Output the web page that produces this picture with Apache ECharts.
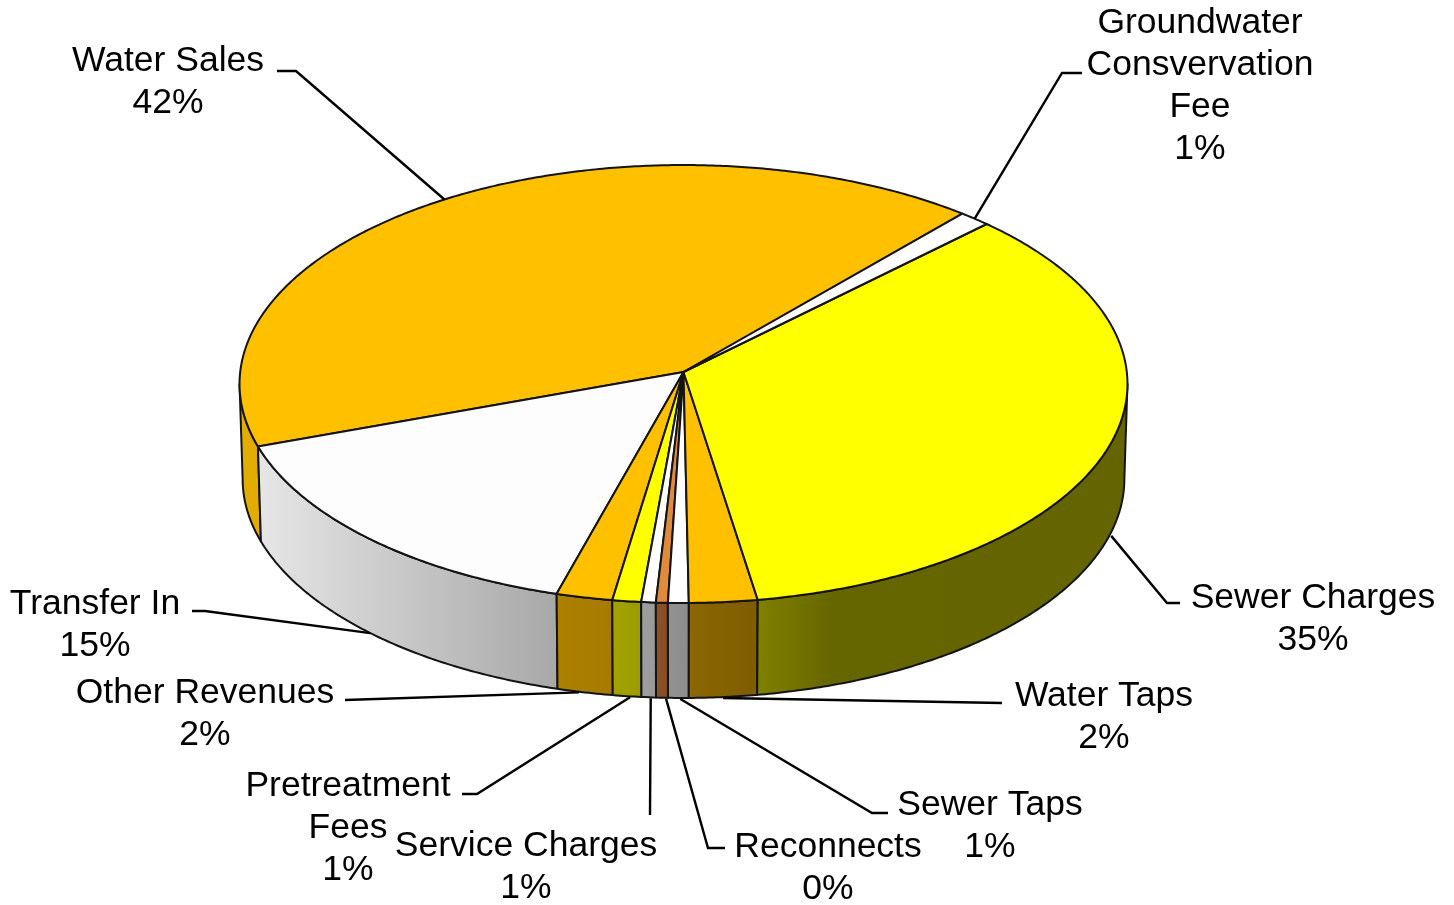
<!DOCTYPE html>
<html>
<head>
<meta charset="utf-8">
<style>html,body{margin:0;padding:0;background:#fff}#chart{width:1454px;height:905px}</style>
<script src="https://cdn.jsdelivr.net/npm/echarts@6/dist/echarts.min.js"></script>
</head>
<body>
<div id="chart"></div>
<script>
// ----- data (counter-clockwise from the Water Sales / Groundwater boundary)
const categories = ['Water Sales','Transfer In','Other Revenues','Pretreatment\nFees','Service Charges','Reconnects','Sewer Taps','Water Taps','Sewer Charges','Groundwater\nConsvervation\nFee'];
const shares = [41.8,15.2,1.94,0.99,0.5,0.41,0.71,2.35,34.9,1.2];
const percentLabels = ['42%','15%','2%','1%','1%','0%','1%','2%','35%','1%'];

// ----- styles
const topColors = ['#FFC000','#FDFDFD','#FFC000','#FFFF00','#FFFFFF','#E08A3C','#FFFFFF','#FFC000','#FFFF00','#FFFFFF'];
const sideStops = [
  [[0,'#E3AC00'],[1,'#E3AC00']],
  [[0,'#E6E6E6'],[1,'#A8A8A8']],
  [[0,'#AD8000'],[1,'#A67B00']],
  [[0,'#A2A200'],[1,'#9C9C00']],
  [[0,'#9E9E9E'],[1,'#9A9A9A']],
  [[0,'#8C5228'],[1,'#864C24']],
  [[0,'#929292'],[1,'#8C8C8C']],
  [[0,'#8C6600'],[1,'#7E5D00']],
  [[0,'#808000'],[0.2,'#666600'],[1,'#646400']],
  [[0,'#666600'],[1,'#666600']]
];

// ----- layout: label centres and leader elbows (from label towards the slice)
const labelCentres = [[168,82.5],[95,625.5],[205,714.5],[348,828],[526,867.5],[828,868.5],[990,826.5],[1104,717.5],[1313,619.5],[1200,86]];
const leaderElbows = [
  [[277,71],[296,71]],
  [[192,611],[205,611]],
  [[345,700]],
  [[462,794],[477,794]],
  [[650,815]],
  [[725,848],[708,848]],
  [[888,813],[872,813]],
  [[1002,703]],
  [[1180,603],[1167,603]],
  [[1082,73],[1062,73]]
];
const leaderAnchorShift = [[0,0],[0,0],[-6,0],[3,1],[2,1],[4,1],[2,1],[0,1],[2,0],[0,0]];

// ----- pie projection
const apex = [683.5,372], radiusX = 443.3, radiusY = 218.3, tilt = 0.0548, depth = 95, startDeg = 49.07, baseScale = 0.993;
const toRad = Math.PI/180;
const total = shares.reduce((a,b)=>a+b,0);
const bounds = [startDeg];
shares.forEach(v=>bounds.push(bounds[bounds.length-1]+v/total*360));

function project(deg, drop){
  const c=Math.cos(deg*toRad), s=Math.sin(deg*toRad), w=1+tilt*s;
  const scaleX = drop ? baseScale : 1;
  return [apex[0]+scaleX*radiusX*c/w, apex[1]-radiusY*s/w+(drop||0)];
}
function arc(a,b,drop){
  const n=Math.max(2,Math.ceil(Math.abs(b-a)/0.5)), pts=[];
  for(let i=0;i<=n;i++) pts.push(project(a+(b-a)*i/n,drop));
  return pts;
}
const sideFrom = 180+Math.asin(tilt)/toRad, sideTo = 360-Math.asin(tilt)/toRad;
const lineColor = '#141414';

function renderSlice(params, api){
  const i = params.dataIndex;
  const a = bounds[i], b = bounds[i+1];
  const children = [];
  // the wall is only visible on the near half of the rim
  for (const shift of [0,-360]) {
    const from = Math.max(a+shift,sideFrom), to = Math.min(b+shift,sideTo);
    if (to<=from) continue;
    const upper = arc(from,to,0), lower = arc(to,from,depth);
    const xs = upper.map(p=>p[0]);
    children.push({
      type:'polygon', shape:{points:upper.concat(lower)},
      style:{
        fill:{type:'linear',global:true,x:Math.min(...xs),y:0,x2:Math.max(...xs),y2:0,
          colorStops:sideStops[i].map(s=>({offset:s[0],color:s[1]}))},
        stroke:lineColor,lineWidth:2,lineJoin:'round'
      }
    });
  }
  children.push({
    type:'polygon', shape:{points:[apex].concat(arc(a,b,0))},
    style:{fill:topColors[i],stroke:lineColor,lineWidth:2,lineJoin:'round'}
  });
  return {type:'group',children};
}

function renderLabel(params, api){
  const i = params.dataIndex;
  const mid = (bounds[i]+bounds[i+1])/2;
  const sin = Math.sin(mid*toRad);
  const anchor = project(mid, sin < -tilt ? depth : 0);
  anchor[0]+=leaderAnchorShift[i][0];
  anchor[1]+=leaderAnchorShift[i][1];
  const pts = leaderElbows[i].concat([anchor]);
  return {type:'group',children:[
    {type:'polyline',shape:{points:pts},style:{fill:null,stroke:'#000',lineWidth:2.4}},
    {type:'text',x:labelCentres[i][0],y:labelCentres[i][1],
     style:{text:categories[i]+'\n'+percentLabels[i],fill:'#000',
       font:'35.5px "Liberation Sans", Arial, sans-serif',lineHeight:42,align:'center',verticalAlign:'middle'}}
  ]};
}

const chart = echarts.init(document.getElementById('chart'),null,{renderer:'canvas'});
const rows = shares.map((v,i)=>({name:categories[i].replace(/\n/g,' '),value:[v]}));
chart.setOption({
  animation:false,
  backgroundColor:'#fff',
  tooltip:{show:false},
  series:[
    {type:'custom',name:'Slices',coordinateSystem:'none',renderItem:renderSlice,data:rows,z:2,silent:true},
    {type:'custom',name:'Labels',coordinateSystem:'none',renderItem:renderLabel,data:rows,z:3,silent:true}
  ]
});
</script>
</body>
</html>
